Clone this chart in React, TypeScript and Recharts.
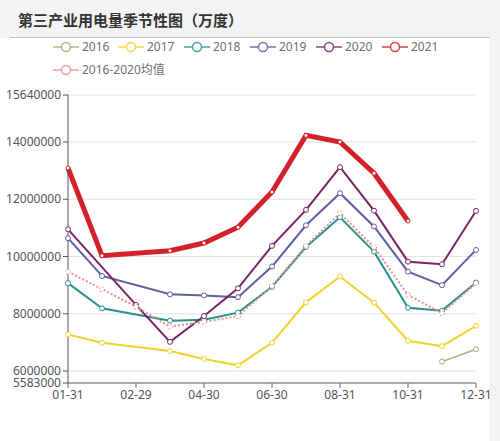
import React from "react";
import { LineChart, Line, XAxis, YAxis, CartesianGrid } from "recharts";

// x categories (02-28 and 02-29 both exist, leap year gets its own slot)
const dates = [
  "01-31", "02-28", "02-29", "03-31", "04-30", "05-31", "06-30",
  "07-31", "08-31", "09-30", "10-31", "11-30", "12-31",
];

// values in 万度
const y2016 = [null, null, null, null, null, null, null, null, null, null, null, 6330000, 6760000];
const y2017 = [7280000, 6990000, null, 6700000, 6420000, 6200000, 6990000, 8400000, 9300000, 8390000, 7060000, 6870000, 7580000];
const y2018 = [9070000, 8190000, null, 7760000, 7790000, 8040000, 8940000, 10330000, 11370000, 10170000, 8210000, 8110000, 9090000];
const y2019 = [10640000, 9320000, null, 8680000, 8640000, 8580000, 9650000, 11090000, 12210000, 11050000, 9470000, 9000000, 10230000];
const y2020 = [10950000, null, 8310000, 7020000, 7920000, 8890000, 10370000, 11630000, 13120000, 11600000, 9820000, 9730000, 11590000];
const y2021 = [13090000, 10030000, null, 10200000, 10470000, 11020000, 12250000, 14230000, 14000000, 12910000, 11240000, null, null];
const avg = [9470000, 8860000, 8250000, 7550000, 7720000, 7920000, 8970000, 10370000, 11510000, 10330000, 8660000, 8020000, 9070000];

const yTicks = [5583000, 6000000, 8000000, 10000000, 12000000, 14000000, 15640000];

const series = [
  { key: "2016", values: y2016, color: "#a8ad78", width: 1.5 },
  { key: "2017", values: y2017, color: "#f2d22e", width: 2 },
  { key: "2018", values: y2018, color: "#26928c", width: 2 },
  { key: "2019", values: y2019, color: "#5f5fa3", width: 2 },
  { key: "2020", values: y2020, color: "#7a2465", width: 2 },
  { key: "2021", values: y2021, color: "#d3202b", width: 5 },
  { key: "2016-2020均值", values: avg, color: "#ec8c92", width: 2, dash: "2 2" },
];

const data = dates.map((d, i) => {
  const row: Record<string, string | number | null> = { date: d };
  series.forEach((s) => {
    row[s.key] = s.values[i];
  });
  return row;
});

const font = "'Noto Sans', 'Noto Sans CJK SC', sans-serif";

const LegendIcon = ({ color }: { color: string }) => (
  <svg width={26} height={12} style={{ display: "block" }}>
    <line x1={0} y1={6} x2={26} y2={6} stroke={color} strokeWidth={1.5} />
    <circle cx={13} cy={6} r={4.5} fill="#fff" stroke={color} strokeWidth={1.5} />
  </svg>
);

const legendPos = [
  { left: 53, top: 41 },
  { left: 118, top: 41 },
  { left: 184, top: 41 },
  { left: 250, top: 41 },
  { left: 316, top: 41 },
  { left: 382, top: 41 },
  { left: 53, top: 64 },
];

export default function App() {
  return (
    <div
      style={{
        position: "relative",
        width: 500,
        height: 441,
        background: "#f3f3f3",
        overflow: "hidden",
        fontFamily: font,
      }}
    >
      <style>{`body{margin:0}`}</style>
      <div
        style={{
          position: "absolute",
          left: 18,
          top: 9,
          fontSize: 15,
          fontWeight: "bold",
          color: "#333",
          fontFamily: "'Noto Sans CJK SC', sans-serif",
        }}
      >
        第三产业用电量季节性图（万度）
      </div>
      <div style={{ position: "absolute", left: 10, top: 37, width: 480, height: 1, background: "#c6c6c6" }} />
      <div style={{ position: "absolute", left: 0, top: 38, width: 489, height: 403, background: "#fff" }} />

      {series.map((s, i) => (
        <div
          key={s.key}
          style={{
            position: "absolute",
            left: legendPos[i].left,
            top: legendPos[i].top,
            display: "flex",
            alignItems: "center",
            gap: 3,
            fontSize: 12,
            color: "#555",
            lineHeight: "12px",
            opacity: 0.85,
          }}
        >
          <LegendIcon color={s.color} />
          <span>{s.key}</span>
        </div>
      ))}

      <div style={{ position: "absolute", left: 0, top: 0 }}>
        <LineChart
          width={500}
          height={441}
          data={data}
          margin={{ top: 95, right: 24, bottom: 28, left: 0 }}
        >
          <CartesianGrid vertical={false} stroke="#e2e2e2" />
          <XAxis
            dataKey="date"
            interval={1}
            height={30}
            stroke="#666"
            tickSize={5}
            tick={{ fontSize: 12, fill: "#555", fontFamily: font }}
          />
          <YAxis
            width={68}
            domain={[5583000, 15640000]}
            ticks={yTicks}
            interval={0}
            stroke="#555"
            tickSize={5}
            tickMargin={2}
            tick={{ fontSize: 12, fill: "#555", fontFamily: font }}
          />
          {series.map((s) => (
            <Line
              key={s.key}
              type="linear"
              dataKey={s.key}
              stroke={s.color}
              strokeWidth={s.width}
              strokeDasharray={s.dash}
              connectNulls
              dot={{ r: s.key === "2021" ? 2 : 2.5, fill: "#fff", stroke: s.color, strokeWidth: 1 }}
              isAnimationActive={false}
            />
          ))}
        </LineChart>
      </div>
    </div>
  );
}
